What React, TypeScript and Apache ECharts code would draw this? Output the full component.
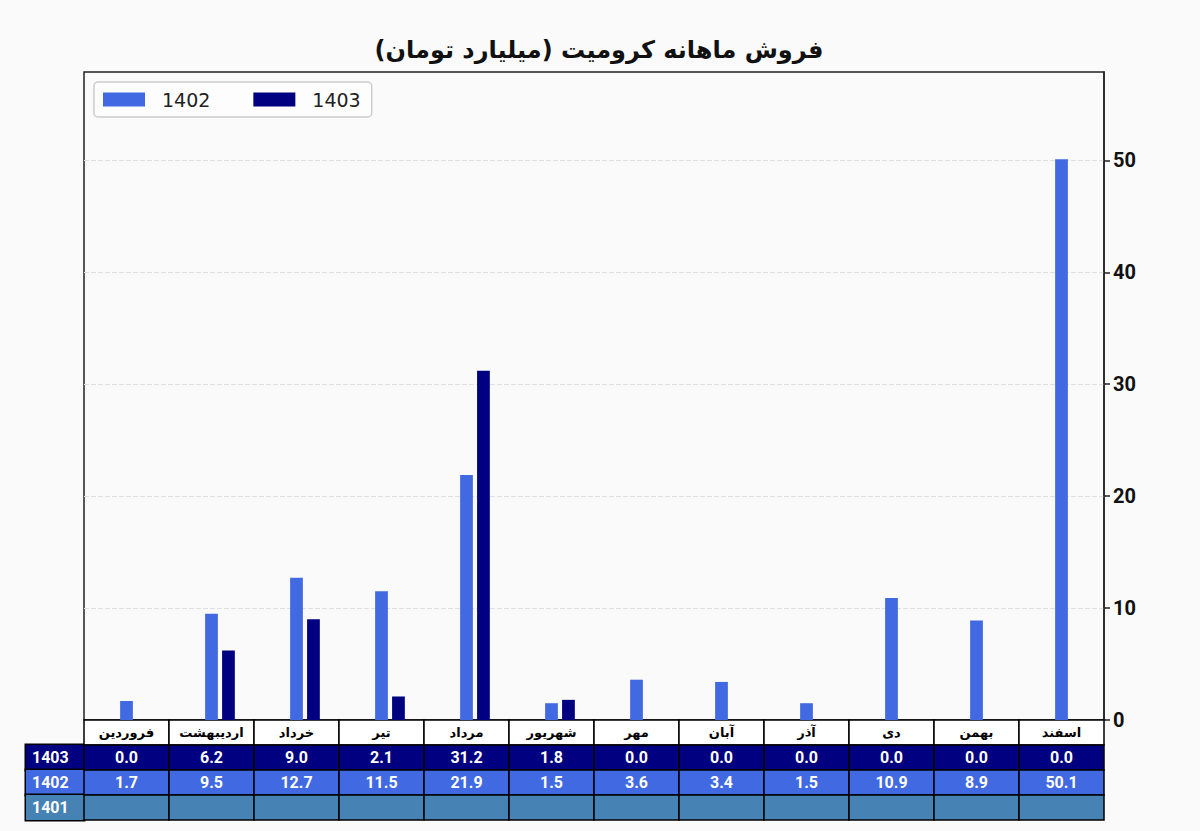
import React, { useEffect, useRef } from "react";
import * as echarts from "echarts";

const TITLE = "فروش ماهانه کرومیت (میلیارد تومان)";
const months = ["فروردین", "اردیبهشت", "خرداد", "تیر", "مرداد", "شهریور", "مهر", "آبان", "آذر", "دی", "بهمن", "اسفند"];
const values1403: (number | null)[] = [0.0, 6.2, 9.0, 2.1, 31.2, 1.8, 0.0, 0.0, 0.0, 0.0, 0.0, 0.0];
const values1402: (number | null)[] = [1.7, 9.5, 12.7, 11.5, 21.9, 1.5, 3.6, 3.4, 1.5, 10.9, 8.9, 50.1];
const values1401: (number | null)[] = [null, null, null, null, null, null, null, null, null, null, null, null];
const yTicks = [0, 10, 20, 30, 40, 50];
const tableRows = ["", "1403", "1402", "1401"];

const C1402 = "#4169E1";
const C1403 = "#000080";
const C1401 = "#4682B4";

export default function App() {
  const ref = useRef<HTMLDivElement>(null);
  useEffect(() => {
    document.body.style.margin = "0";
    if (!ref.current) return;
    const chart = echarts.init(ref.current, null, { renderer: "svg" });

    const rowFill: Record<string, string> = { "": "#ffffff", "1403": C1403, "1402": C1402, "1401": C1401 };
    const rowValues: Record<string, (number | null)[]> = { "1403": values1403, "1402": values1402, "1401": values1401 };
    const cells: { text: string; fill: string; color: string; font: string }[] = [];
    const cellData: number[][] = [];
    tableRows.forEach((r, ri) => {
      months.forEach((m, ci) => {
        let text = "";
        if (r === "") text = m;
        else {
          const v = rowValues[r][ci];
          text = v === null || v === undefined ? "" : v.toFixed(1);
        }
        cells.push({
          text,
          fill: rowFill[r],
          color: r === "" ? "#000" : "#fff",
          font: r === "" ? "bold 13px 'DejaVu Sans', sans-serif" : "bold 16px Roboto, sans-serif",
        });
        cellData.push([ci, ri]);
      });
    });

    const rowLabelStyle = (bg: string) => ({
      backgroundColor: bg,
      color: "#fff",
      borderColor: "#000",
      borderWidth: 1.5,
      width: 52,
      height: 25,
      lineHeight: 25,
      padding: [0, 0, 0, 6],
      fontSize: 16,
      fontWeight: "bold",
      fontFamily: "Roboto, sans-serif",
      align: "left",
    });

    const option: any = {
      animation: false,
      backgroundColor: "#fafafa",
      title: {
        text: TITLE,
        left: 594,
        top: 33,
        textAlign: "center",
        textStyle: { fontSize: 24, fontWeight: "bold", color: "#111", fontFamily: "'DejaVu Sans', sans-serif" },
      },
      legend: {
        data: ["1402", "1403"],
        left: 94,
        top: 82,
        icon: "rect",
        itemWidth: 42,
        itemHeight: 14,
        itemGap: 43,
        padding: [8, 11, 8, 9],
        borderColor: "#ccc",
        borderWidth: 1.5,
        borderRadius: 4,
        backgroundColor: "#fdfdfd",
        textStyle: { fontSize: 19, color: "#222", fontFamily: "'DejaVu Sans', sans-serif", padding: [0, 0, 0, 12] },
      },
      grid: [
        { left: 84, right: 96, top: 72, height: 648, show: true, borderColor: "#222", borderWidth: 1.5, backgroundColor: "transparent" },
        { left: 84, right: 96, top: 720, height: 100 },
      ],
      xAxis: [
        { type: "category", data: months, gridIndex: 0, axisLine: { show: false }, axisTick: { show: false }, axisLabel: { show: false }, splitLine: { show: false } },
        { type: "category", data: months, gridIndex: 1, show: false },
      ],
      yAxis: [
        {
          type: "value",
          gridIndex: 0,
          position: "right",
          min: 0,
          max: 57.9,
          interval: 10,
          axisLine: { show: true, lineStyle: { color: "#222", width: 1.5 } },
          axisTick: { show: true, inside: false, length: 6, lineStyle: { color: "#222", width: 1.5 }, customValues: yTicks },
          axisLabel: {
            customValues: yTicks,
            margin: 9,
            fontSize: 20,
            fontWeight: "bold",
            color: "#111",
            fontFamily: "Roboto, sans-serif",
          },
          splitLine: { show: true, lineStyle: { color: "#e0e0e0", type: [5, 2], width: 1.2 } },
        },
        {
          type: "category",
          gridIndex: 1,
          data: tableRows,
          inverse: true,
          axisLine: { show: false },
          axisTick: { show: false },
          splitLine: { show: false },
          axisLabel: {
            interval: 0,
            margin: 0,
            formatter: (v: string) => (v === "" ? "" : `{r${v}|${v}}`),
            rich: {
              r1403: rowLabelStyle(C1403),
              r1402: rowLabelStyle(C1402),
              r1401: rowLabelStyle(C1401),
            },
          },
        },
      ],
      series: [
        { name: "1401", type: "bar", xAxisIndex: 0, yAxisIndex: 0, data: values1401, barWidth: 12.75, barGap: "33%", itemStyle: { color: C1401 } },
        { name: "1402", type: "bar", xAxisIndex: 0, yAxisIndex: 0, data: values1402, barWidth: 12.75, barGap: "33%", itemStyle: { color: C1402 } },
        { name: "1403", type: "bar", xAxisIndex: 0, yAxisIndex: 0, data: values1403, barWidth: 12.75, barGap: "33%", itemStyle: { color: C1403 } },
        {
          name: "table",
          type: "custom",
          xAxisIndex: 1,
          yAxisIndex: 1,
          data: cellData,
          silent: true,
          renderItem: (params: any, api: any) => {
            const c = cells[params.dataIndex];
            const p = api.coord([api.value(0), api.value(1)]);
            const s = api.size([1, 1]);
            return {
              type: "group",
              children: [
                {
                  type: "rect",
                  shape: { x: p[0] - s[0] / 2, y: p[1] - s[1] / 2, width: s[0], height: s[1] },
                  style: { fill: c.fill, stroke: "#000", lineWidth: 1.5 },
                },
                {
                  type: "text",
                  style: {
                    text: c.text,
                    x: p[0],
                    y: p[1],
                    align: "center",
                    verticalAlign: "middle",
                    fill: c.color,
                    font: c.font,
                  },
                },
              ],
            };
          },
        },
      ],
    };
    chart.setOption(option);
    return () => chart.dispose();
  }, []);
  return <div ref={ref} style={{ width: 1200, height: 831 }} />;
}
